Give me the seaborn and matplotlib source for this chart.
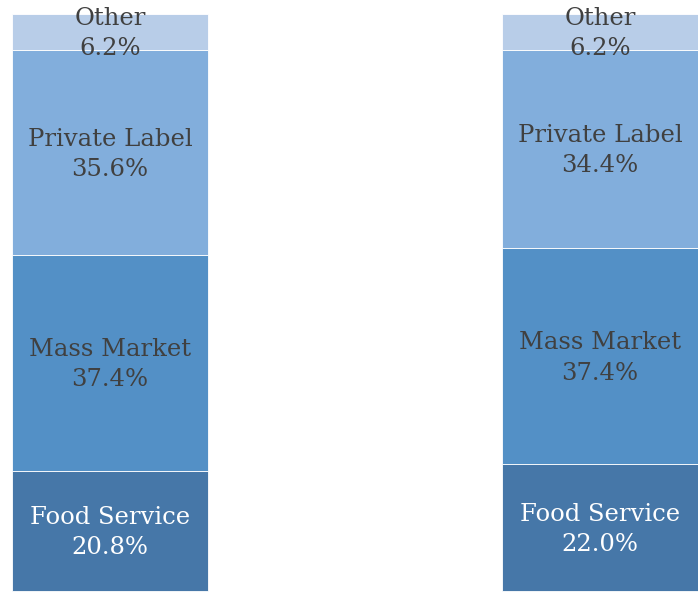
import pandas as pd
import matplotlib.pyplot as plt
import seaborn as sns

# dados das duas barras empilhadas
barras = ["A", "B"]
segmentos = ["Food Service", "Mass Market", "Private Label", "Other"]
food_service = [20.8, 22.0]
mass_market = [37.4, 37.4]
private_label = [35.6, 34.4]
other = [6.2, 6.2]

cores = ["#4677A8", "#5390C6", "#82AEDC", "#B8CDE8"]
cores_texto = ["white", "#404040", "#404040", "#404040"]

tabela = pd.DataFrame({"barra": barras, "Food Service": food_service,
                       "Mass Market": mass_market, "Private Label": private_label,
                       "Other": other})

sns.set_style("white")
fig = plt.figure(figsize=(6.98, 5.92), dpi=100)
ax = fig.add_axes([0, 0, 1, 1])

base = [0.0, 0.0]
for seg, cor, cor_txt in zip(segmentos, cores, cores_texto):
    sns.barplot(data=tabela, x="barra", y=seg, color=cor, bottom=base, width=0.4,
                edgecolor="white", linewidth=0.6, ax=ax, saturation=1)
    for i, v in enumerate(tabela[seg]):
        ax.text(i, base[i] + v / 2 - 0.3, f"{seg}\n{v:.1f}%", ha="center", va="center",
                fontsize=17.5, color=cor_txt, family="DejaVu Serif", linespacing=1.4)
    base = [b + v for b, v in zip(base, tabela[seg])]

ax.set_xlim(-0.2245, 1.2)
ax.set_ylim(-0.17, 102.43)
ax.axis("off")
fig.savefig("out.png", dpi=100)
